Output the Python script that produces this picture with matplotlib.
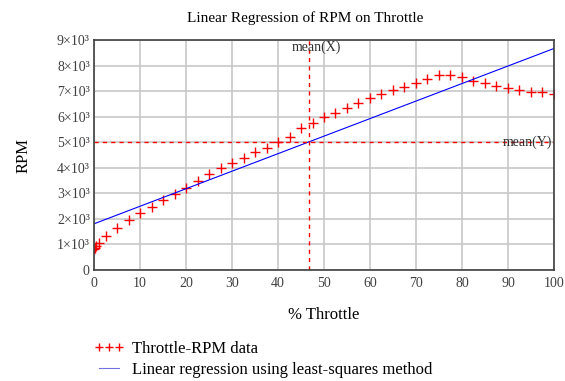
import numpy as np
import matplotlib.pyplot as plt
from matplotlib.ticker import FuncFormatter

plt.rcParams['font.family'] = ['Liberation Serif', 'DejaVu Serif']

# Throttle (%) and engine speed (RPM)
throttle = [0, 0.25, 0.5, 1.0, 2.5, 5, 7.5, 10, 12.5, 15, 17.5, 20, 22.5, 25,
            27.5, 30, 32.5, 35, 37.5, 40, 42.5, 45, 47.5, 50, 52.5, 55, 57.5,
            60, 62.5, 65, 67.5, 70, 72.5, 75, 77.5, 80, 82.5, 85, 87.5, 90,
            92.5, 95, 97.5, 100]
rpm = [810, 870, 935, 1060, 1340, 1660, 1960, 2230, 2470, 2730, 2960, 3200,
       3490, 3770, 4000, 4200, 4400, 4600, 4770, 5000, 5220, 5570, 5760, 5990,
       6150, 6330, 6540, 6720, 6880, 7040, 7170, 7310, 7460, 7640, 7620, 7570,
       7400, 7310, 7200, 7130, 7040, 6980, 6950, 6890]

x = np.array(throttle)
y = np.array(rpm)
slope, intercept = np.polyfit(x, y, 1)
xfit = np.array([0, 100])
yfit = slope * xfit + intercept
mx, my = x.mean(), y.mean()

fig = plt.figure(figsize=(5.65, 3.81), dpi=100)
ax = fig.add_axes([0.1664, 0.2913, 0.8141, 0.6037])

ax.plot(x, y, '+', color='red', ms=7, mew=1.0, label='Throttle-RPM data')
ax.plot(xfit, yfit, color='blue', lw=0.8,
        label='Linear regression using least-squares method')
ax.axvline(mx, color='red', ls=(0, (3, 3)), lw=1.0)
ax.axhline(my, color='red', ls=(0, (3, 3)), lw=1.0)
ax.text(mx - 3.7, 8700, 'mean(X)', fontsize=10, color='#303030', va='center')
ax.text(99.5, my, 'mean(Y)', fontsize=10, color='#303030', va='center', ha='right')

ax.set_xlim(0, 100)
ax.set_ylim(0, 9000)
ax.set_xticks(np.arange(0, 101, 10))
ax.set_yticks(np.arange(0, 9001, 1000))


def yfmt(v, pos):
    if v == 0:
        return '0'
    return f'{int(v / 1000)}×10³'


ax.yaxis.set_major_formatter(FuncFormatter(yfmt))
ax.tick_params(length=0, labelsize=10, labelcolor='#404040')
ax.tick_params(axis='x', pad=5)
ax.tick_params(axis='y', pad=3)
ax.grid(True, color='#c8c8c8', lw=1.2)
ax.set_axisbelow(True)
for s in ax.spines.values():
    s.set_color('#404040')
    s.set_linewidth(1.2)

fig.text(305 / 565, 1 - 18 / 381, 'Linear Regression of RPM on Throttle',
         fontsize=11, ha='center', va='center')
ax.set_xlabel('% Throttle', fontsize=12, labelpad=12)
ax.set_ylabel('RPM', fontsize=12, labelpad=18)

leg = fig.legend(loc='upper left', bbox_to_anchor=(0.155, 0.122), frameon=False,
                 numpoints=3, markerscale=0.75, fontsize=12, handlelength=1.8,
                 handletextpad=0.45, labelspacing=0.3, borderaxespad=0)
leg.get_lines()[1].set_color('#7070e0')

fig.savefig('out.png', dpi=100)
